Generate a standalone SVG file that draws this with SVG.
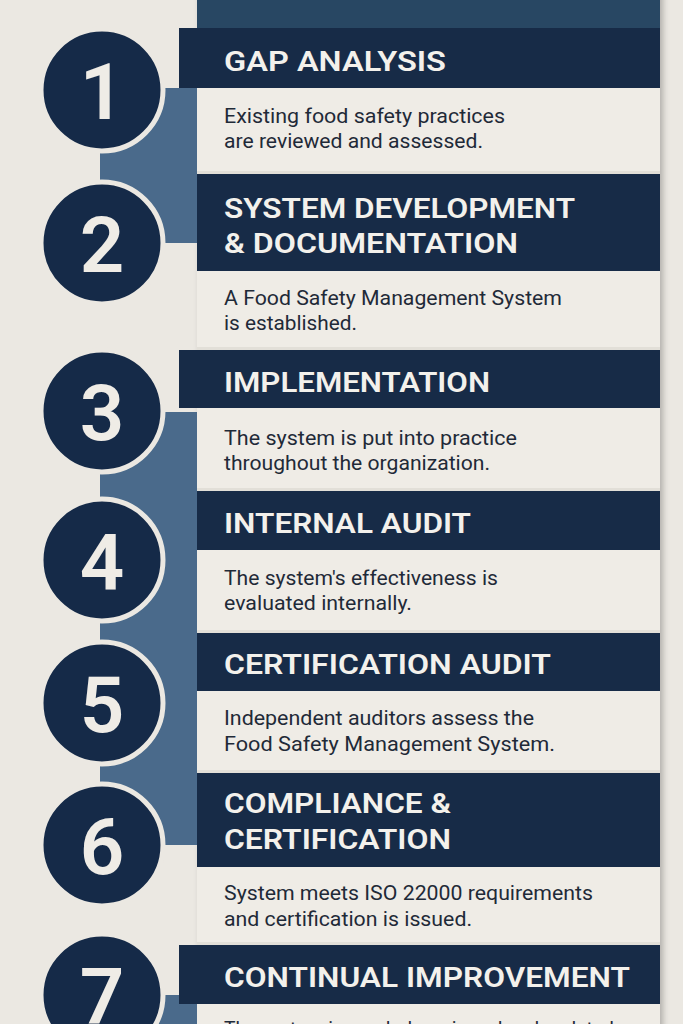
<svg xmlns="http://www.w3.org/2000/svg" width="683" height="1024" viewBox="0 0 683 1024">
  <defs>
    <filter id="shadow" x="-5%" y="-5%" width="110%" height="110%">
      <feGaussianBlur in="SourceAlpha" stdDeviation="3"/>
      <feOffset dx="3" dy="0"/>
      <feComponentTransfer><feFuncA type="linear" slope="0.25"/></feComponentTransfer>
      <feMerge><feMergeNode/><feMergeNode in="SourceGraphic"/></feMerge>
    </filter>
  </defs>
  <style>
    .bg{fill:#ebe8e2}
    .panel{fill:#efece6}
    .hdr{fill:#172b47}
    .strip{fill:#4a6a8b}
    .circ{fill:#152a48;stroke:#ebe8e2;stroke-width:5}
    .num{font-family:Roboto,"Liberation Sans",sans-serif;font-weight:600;font-size:78px;fill:#efece6;text-anchor:middle}
    .title{font-family:Roboto,"Liberation Sans",sans-serif;font-weight:600;font-size:28px;fill:#f3f1ec}
    .body{font-family:Roboto,"Liberation Sans",sans-serif;font-size:20px;fill:#1f2a38}
    .sep{fill:#e2dfd8}
  </style>
  <rect class="bg" x="0" y="0" width="683" height="1024"/>
  <rect class="panel" x="197" y="-10" width="463" height="1044" filter="url(#shadow)"/>
  <rect x="197" y="0" width="463" height="28" fill="#284763"/>

  <g id="connectors">
    <rect class="strip" x="100" y="88" width="97" height="155"/>
    <rect class="strip" x="100" y="412" width="97" height="433"/>
    <rect class="strip" x="100" y="995" width="97" height="29"/>
  </g>

  <g id="step1">
    <rect class="hdr" x="179" y="28" width="481" height="60"/>
    <rect class="sep" x="197" y="171" width="463" height="3"/>
    <circle class="circ" cx="102" cy="90" r="61"/>
    <text class="num" x="102" y="119">1</text>
    <text class="title" x="224" y="71" textLength="222" lengthAdjust="spacingAndGlyphs">GAP ANALYSIS</text>
    <text class="body" x="224" y="123" textLength="281" lengthAdjust="spacingAndGlyphs">Existing food safety practices</text>
    <text class="body" x="224" y="148" textLength="259" lengthAdjust="spacingAndGlyphs">are reviewed and assessed.</text>
  </g>

  <g id="step2">
    <rect class="hdr" x="197" y="174" width="463" height="97"/>
    <rect class="sep" x="197" y="347" width="463" height="3"/>
    <circle class="circ" cx="102" cy="243" r="61"/>
    <text class="num" x="102" y="272">2</text>
    <text class="title" x="224" y="218" textLength="351" lengthAdjust="spacingAndGlyphs">SYSTEM DEVELOPMENT</text>
    <text class="title" x="224" y="253" textLength="294" lengthAdjust="spacingAndGlyphs">&amp; DOCUMENTATION</text>
    <text class="body" x="224" y="305" textLength="338" lengthAdjust="spacingAndGlyphs">A Food Safety Management System</text>
    <text class="body" x="224" y="330" textLength="133" lengthAdjust="spacingAndGlyphs">is established.</text>
  </g>

  <g id="step3">
    <rect class="hdr" x="179" y="350" width="481" height="58"/>
    <rect class="sep" x="197" y="488" width="463" height="3"/>
    <circle class="circ" cx="102" cy="411" r="61"/>
    <text class="num" x="102" y="440">3</text>
    <text class="title" x="224" y="392" textLength="266" lengthAdjust="spacingAndGlyphs">IMPLEMENTATION</text>
    <text class="body" x="224" y="445" textLength="293" lengthAdjust="spacingAndGlyphs">The system is put into practice</text>
    <text class="body" x="224" y="470" textLength="266" lengthAdjust="spacingAndGlyphs">throughout the organization.</text>
  </g>

  <g id="step4">
    <rect class="hdr" x="197" y="491" width="463" height="59"/>
    <rect class="sep" x="197" y="630" width="463" height="3"/>
    <circle class="circ" cx="102" cy="560" r="61"/>
    <text class="num" x="102" y="589">4</text>
    <text class="title" x="224" y="533" textLength="247" lengthAdjust="spacingAndGlyphs">INTERNAL AUDIT</text>
    <text class="body" x="224" y="585" textLength="274" lengthAdjust="spacingAndGlyphs">The system's effectiveness is</text>
    <text class="body" x="224" y="610" textLength="188" lengthAdjust="spacingAndGlyphs">evaluated internally.</text>
  </g>

  <g id="step5">
    <rect class="hdr" x="197" y="633" width="463" height="58"/>
    <rect class="sep" x="197" y="770" width="463" height="3"/>
    <circle class="circ" cx="102" cy="703" r="61"/>
    <text class="num" x="102" y="732">5</text>
    <text class="title" x="224" y="674" textLength="327" lengthAdjust="spacingAndGlyphs">CERTIFICATION AUDIT</text>
    <text class="body" x="224" y="725" textLength="310" lengthAdjust="spacingAndGlyphs">Independent auditors assess the</text>
    <text class="body" x="224" y="751" textLength="331" lengthAdjust="spacingAndGlyphs">Food Safety Management System.</text>
  </g>

  <g id="step6">
    <rect class="hdr" x="197" y="773" width="463" height="94"/>
    <rect class="sep" x="197" y="942" width="463" height="3"/>
    <circle class="circ" cx="102" cy="845" r="61"/>
    <text class="num" x="102" y="874">6</text>
    <text class="title" x="224" y="813" textLength="227" lengthAdjust="spacingAndGlyphs">COMPLIANCE &amp;</text>
    <text class="title" x="224" y="849" textLength="227" lengthAdjust="spacingAndGlyphs">CERTIFICATION</text>
    <text class="body" x="224" y="900" textLength="369" lengthAdjust="spacingAndGlyphs">System meets ISO 22000 requirements</text>
    <text class="body" x="224" y="926" textLength="248" lengthAdjust="spacingAndGlyphs">and certification is issued.</text>
  </g>

  <g id="step7">
    <rect class="hdr" x="179" y="945" width="481" height="59"/>
    <circle class="circ" cx="102" cy="995" r="61"/>
    <text class="num" x="102" y="1024">7</text>
    <text class="title" x="224" y="987" textLength="406" lengthAdjust="spacingAndGlyphs">CONTINUAL IMPROVEMENT</text>
    <text class="body" x="224" y="1036" textLength="390" lengthAdjust="spacingAndGlyphs">The system is regularly reviewed and updated</text>
  </g>
</svg>
